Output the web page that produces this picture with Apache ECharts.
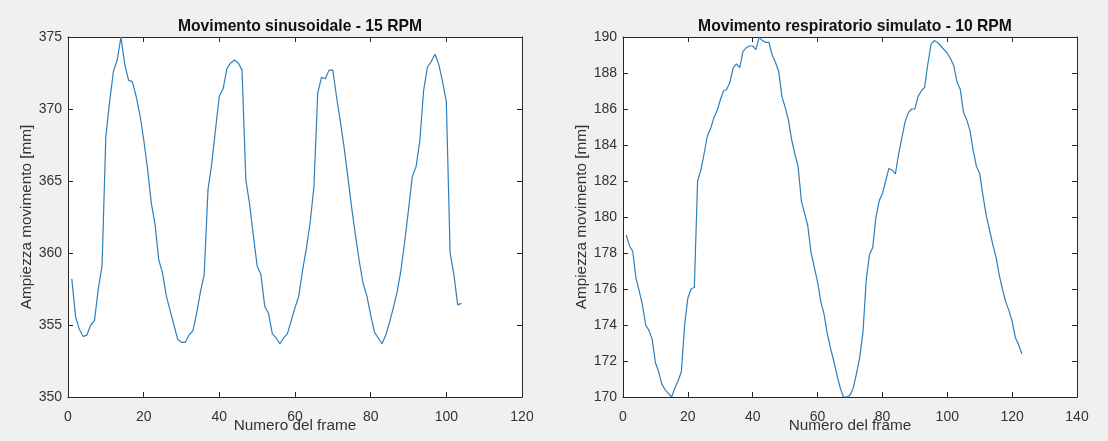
<!DOCTYPE html>
<html>
<head>
<meta charset="utf-8">
<script src="https://cdn.jsdelivr.net/npm/echarts@6/dist/echarts.min.js"></script>
<style>
  html, body { margin: 0; padding: 0; background: #f0f0f0; }
  #chart-container { width: 1108px; height: 441px; }
</style>
</head>
<body>
<div id="chart-container"></div>
<script>
// movimento sinusoidale, 15 RPM (frame 1..104)
const sinusoidale = [
  358.2, 355.6, 354.7, 354.2, 354.3, 355.0, 355.3, 357.5, 359.1, 368.1,
  370.5, 372.6, 373.4, 375.0, 373.1, 372.0, 371.9, 370.9, 369.6, 367.9,
  365.9, 363.5, 362.0, 359.5, 358.6, 357.0, 356.0, 355.0, 354.0, 353.8,
  353.8, 354.3, 354.6, 355.8, 357.3, 358.5, 364.4, 366.2, 368.6, 370.9,
  371.4, 372.8, 373.2, 373.4, 373.2, 372.7, 365.1, 363.4, 361.2, 359.1,
  358.5, 356.3, 355.8, 354.4, 354.1, 353.7, 354.1, 354.4, 355.3, 356.2,
  357.0, 358.8, 360.3, 362.1, 364.6, 371.1, 372.2, 372.1, 372.7, 372.7,
  370.8, 369.1, 367.3, 365.2, 363.1, 361.2, 359.4, 357.9, 357.0, 355.7,
  354.5, 354.1, 353.7, 354.3, 355.2, 356.2, 357.3, 358.8, 360.8, 363.0,
  365.3, 366.0, 367.8, 371.3, 372.9, 373.3, 373.8, 373.1, 371.9, 370.5,
  360.0, 358.5, 356.4, 356.5
];

// movimento respiratorio simulato, 10 RPM (frame 1..123)
const respiratorio = [
  179.0, 178.4, 178.1, 176.6, 175.9, 175.1, 174.0, 173.7, 173.2, 171.9,
  171.4, 170.7, 170.4, 170.2, 170.0, 170.5, 170.9, 171.4, 174.0, 175.5,
  176.0, 176.1, 182.0, 182.6, 183.5, 184.5, 184.9, 185.5, 185.9, 186.5,
  187.0, 187.1, 187.5, 188.3, 188.5, 188.3, 189.2, 189.4, 189.5, 189.5,
  189.3, 190.0, 189.8, 189.7, 189.7, 189.0, 188.6, 188.1, 186.7, 186.1,
  185.4, 184.3, 183.5, 182.8, 180.9, 180.2, 179.5, 178.0, 177.2, 176.4,
  175.3, 174.6, 173.5, 172.7, 172.0, 171.2, 170.5, 170.0, 170.0, 170.1,
  170.5, 171.3, 172.2, 173.6, 176.5, 177.9, 178.3, 180.0, 180.9, 181.3,
  182.0, 182.7, 182.6, 182.4, 183.5, 184.4, 185.3, 185.8, 186.0, 186.0,
  186.7, 187.0, 187.2, 188.5, 189.6, 189.8, 189.7, 189.5, 189.3, 189.1,
  188.8, 188.4, 187.5, 187.1, 185.8, 185.4, 184.8, 183.7, 182.8, 182.4,
  181.2, 180.1, 179.3, 178.5, 177.8, 176.8, 176.0, 175.3, 174.8, 174.2,
  173.3, 172.9, 172.4
];

const titoli = ["Movimento sinusoidale - 15 RPM", "Movimento respiratorio simulato - 10 RPM"];
const xMax = [120, 140];
const yRange = [[350, 375, 5], [170, 190, 2]];

(() => {
  var dom = document.getElementById("chart-container");
  var chart = echarts.init(dom, null, { renderer: "canvas" });

  const FONT = "Liberation Sans";
  const AXIS = "#262626";
  const grids = [
    { left: 68, top: 37, width: 454, height: 360 },
    { left: 623, top: 37, width: 454, height: 360 },
  ];

  const tick = { show: true, inside: true, length: 5, lineStyle: { color: AXIS } };
  const line = { show: true, onZero: false, lineStyle: { color: AXIS, width: 1 } };
  const label = { color: "#333", fontFamily: FONT, fontSize: 14 };
  const nameStyle = { color: "#333", fontFamily: FONT, fontSize: 15.3 };

  const xAxis = [];
  const yAxis = [];
  [0, 1].forEach((i) => {
    xAxis.push({
      type: "value", gridIndex: i, min: 0, max: xMax[i], interval: 20,
      position: "bottom", axisLine: line, axisTick: tick, splitLine: { show: false },
      axisLabel: Object.assign({ margin: 13 }, label),
      name: "Numero del frame", nameLocation: "middle", nameGap: 21,
      nameMoveOverlap: false,
      nameTextStyle: nameStyle,
    });
    xAxis.push({
      type: "value", gridIndex: i, min: 0, max: xMax[i], interval: 20,
      position: "top", axisLine: line, axisTick: tick, splitLine: { show: false },
      axisLabel: { show: false },
    });
    yAxis.push({
      type: "value", gridIndex: i, min: yRange[i][0], max: yRange[i][1], interval: yRange[i][2],
      position: "left", axisLine: line, axisTick: tick, splitLine: { show: false },
      axisLabel: Object.assign({ margin: 6 }, label),
      name: "Ampiezza movimento [mm]", nameLocation: "middle", nameGap: 34,
      nameMoveOverlap: false,
      nameTextStyle: nameStyle,
    });
    yAxis.push({
      type: "value", gridIndex: i, min: yRange[i][0], max: yRange[i][1], interval: yRange[i][2],
      position: "right", axisLine: line, axisTick: tick, splitLine: { show: false },
      axisLabel: { show: false },
    });
  });

  const option = {
    backgroundColor: "#f0f0f0",
    animation: false,
    title: titoli.map((t, i) => ({
      text: t,
      left: grids[i].left + grids[i].width / 2,
      textAlign: "center",
      top: 14,
      textStyle: { fontFamily: FONT, fontSize: 15.7, fontWeight: "bold", color: "#111" },
    })),
    grid: grids.map((g) => Object.assign({
      show: true, backgroundColor: "#fff", borderWidth: 0,
      containLabel: false, outerBoundsMode: "none",
    }, g)),
    xAxis: xAxis,
    yAxis: yAxis,
    series: [
      {
        name: titoli[0], type: "line", xAxisIndex: 0, yAxisIndex: 0,
        data: sinusoidale.map((v, k) => [k + 1, v]),
        showSymbol: false, lineStyle: { color: "#2d7fbd", width: 1.2 },
      },
      {
        name: titoli[1], type: "line", xAxisIndex: 2, yAxisIndex: 2,
        data: respiratorio.map((v, k) => [k + 1, v]),
        showSymbol: false, lineStyle: { color: "#2d7fbd", width: 1.2 },
      },
    ],
  };
  chart.setOption(option);
  window.addEventListener("resize", chart.resize);
})();
</script>
</body>
</html>
